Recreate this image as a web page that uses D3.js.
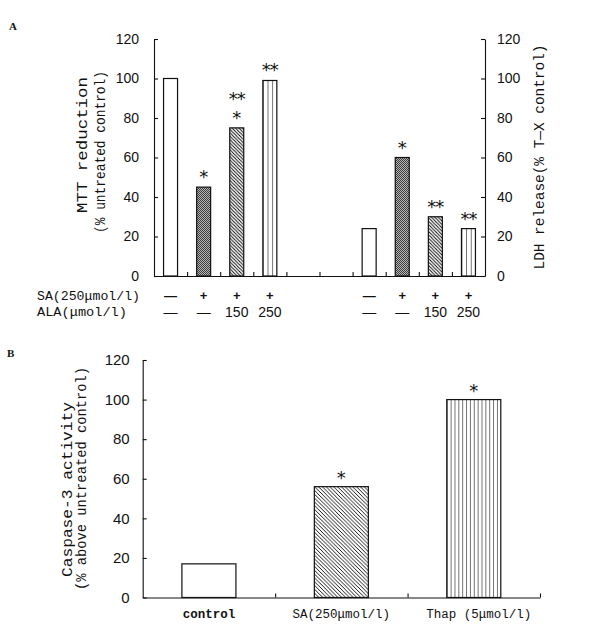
<!DOCTYPE html>
<html><head><meta charset="utf-8">
<script src="https://cdn.jsdelivr.net/npm/d3@7"></script>
<style>body{margin:0;background:#fff}svg{display:block}</style>
</head><body>
<script>
// ---------- data ----------
const slotsA = ["m1","m2","m3","m4","g1","g2","l1","l2","l3","l4"];
const mttSlots = ["m1","m2","m3","m4"];
const ldhSlots = ["l1","l2","l3","l4"];
const mttValues = [100, 45, 75, 99];
const ldhValues = [24, 60, 30, 24];
const barStylesA = ["open","dots","diag","vert"];
const mttSig = [[], ["*"], ["*","**"], ["**"]];
const ldhSig = [[], ["*"], ["**"], ["**"]];
const saRow = ["—","+","+","+"];
const alaRow = ["—","—","150","250"];
const rowLabels = ["SA(250μmol/l)", "ALA(μmol/l)"];
const yTicks = [0,20,40,60,80,100,120];

const categoriesB = ["control", "SA(250μmol/l)", "Thap (5μmol/l)"];
const caspValues = [17, 56, 100];
const barStylesB = ["open","diag","vert"];
const caspSig = [[], ["*"], ["*"]];

// ---------- setup ----------
const W = 600, H = 633;
const svg = d3.select("body").append("svg").attr("width", W).attr("height", H);
const defs = svg.append("defs");
const ink = "#111";
let pid = 0;

function fillFor(style, x0, w, cellW) {
  if (style === "open") return "#fff";
  const id = "p" + (pid++);
  if (style === "dots") {
    const p = defs.append("pattern").attr("id", id).attr("patternUnits", "userSpaceOnUse")
      .attr("width", 2).attr("height", 2);
    p.append("rect").attr("width", 2).attr("height", 2).attr("fill", "#b8b8b8");
    p.append("rect").attr("width", 1).attr("height", 1).attr("fill", "#3a3a3a");
    p.append("rect").attr("x", 1).attr("y", 1).attr("width", 1).attr("height", 1).attr("fill", "#3a3a3a");
  } else if (style === "diag") {
    const s = cellW;
    const p = defs.append("pattern").attr("id", id).attr("patternUnits", "userSpaceOnUse")
      .attr("x", x0).attr("width", s).attr("height", s);
    p.append("rect").attr("width", s).attr("height", s).attr("fill", "#fff");
    p.append("path").attr("d", `M-1,-1L${s+1},${s+1}M-1,${s-1}L1,${s+1}M${s-1},-1L${s+1},1`)
      .attr("stroke", "#000").attr("stroke-width", 0.9);
  } else if (style === "vert") {
    const n = Math.max(1, Math.round(w / cellW));
    const s = w / n;
    const p = defs.append("pattern").attr("id", id).attr("patternUnits", "userSpaceOnUse")
      .attr("x", x0).attr("width", s).attr("height", 10);
    p.append("rect").attr("width", s).attr("height", 10).attr("fill", "#fff");
    p.append("line").attr("x1", 0).attr("x2", 0).attr("y1", 0).attr("y2", 10)
      .attr("stroke", "#000").attr("stroke-width", 1.1);
  }
  return `url(#${id})`;
}

function styleAxis(g, size) {
  g.selectAll("path.domain, line").attr("stroke", ink).attr("stroke-width", 1.1);
  g.selectAll("text").attr("font-family", "Liberation Sans, Arial, sans-serif")
    .attr("font-size", size).attr("fill", ink);
}

function sigLabels(g, x, y, keys, values, sigs, offset) {
  keys.forEach((k, i) => {
    sigs[i].forEach((t, j) => {
      const cy = y(values[i]) - offset - j * 19;
      g.append("text").attr("x", x(k) + x.bandwidth() / 2).attr("y", cy + 10)
        .attr("text-anchor", "middle").attr("font-family", "DejaVu Sans, sans-serif")
        .attr("font-size", 18).attr("letter-spacing", t.length > 1 ? -1 : 0)
        .attr("fill", ink).text(t);
    });
  });
}

function rotTitle(g, text, cx, cy, len, size) {
  g.append("text").attr("transform", `translate(${cx},${cy}) rotate(-90)`)
    .attr("text-anchor", "middle").attr("font-family", "Liberation Mono, monospace")
    .attr("font-size", size).attr("textLength", len).attr("lengthAdjust", "spacingAndGlyphs")
    .attr("fill", ink).text(text);
}

// ---------- Panel A ----------
const gA = svg.append("g");
const xA = d3.scaleBand().domain(slotsA).range([154, 485]).paddingInner(0.577).paddingOuter(0.2885);
const yA = d3.scaleLinear().domain([0, 120]).range([276, 39]);
const slotAxis = d3.scaleLinear().domain([0, slotsA.length]).range(xA.range());

gA.append("g").attr("transform", "translate(154,0)")
  .call(d3.axisLeft(yA).tickValues(yTicks).tickSizeInner(-4).tickSizeOuter(0).tickPadding(15))
  .call(g => styleAxis(g, 14));
gA.append("g").attr("transform", "translate(485,0)")
  .call(d3.axisRight(yA).tickValues(yTicks).tickSizeInner(-4).tickSizeOuter(0).tickPadding(12))
  .call(g => styleAxis(g, 14));
gA.append("g").attr("transform", "translate(0,276)")
  .call(d3.axisBottom(slotAxis).tickValues(d3.range(1, slotsA.length)).tickSizeInner(-4).tickSizeOuter(0).tickFormat(""))
  .call(g => styleAxis(g, 14));

function barsA(keys, values) {
  keys.forEach((k, i) => {
    const x0 = xA(k), w = xA.bandwidth();
    gA.append("rect").attr("x", x0).attr("y", yA(values[i]))
      .attr("width", w).attr("height", yA(0) - yA(values[i]))
      .attr("fill", fillFor(barStylesA[i], x0, w, barStylesA[i] === "diag" ? 3.4 : 4.6))
      .attr("stroke", ink).attr("stroke-width", 1.2);
  });
}
barsA(mttSlots, mttValues);
barsA(ldhSlots, ldhValues);
sigLabels(gA, xA, yA, mttSlots, mttValues, mttSig, 14);
sigLabels(gA, xA, yA, ldhSlots, ldhValues, ldhSig, 14);

// treatment rows
[mttSlots, ldhSlots].forEach(keys => {
  keys.forEach((k, i) => {
    const cx = xA(k) + xA.bandwidth() / 2;
    gA.append("text").attr("x", cx).attr("y", 300).attr("text-anchor", "middle")
      .attr("font-family", "Liberation Sans, sans-serif").attr("font-size", saRow[i] === "+" ? 13 : 13)
      .attr("font-weight", "bold").attr("fill", ink).text(saRow[i]);
    gA.append("text").attr("x", cx).attr("y", 316.5).attr("text-anchor", "middle")
      .attr("font-family", "Liberation Sans, sans-serif").attr("font-size", 14)
      .attr("fill", ink).text(alaRow[i]);
  });
});
gA.append("text").attr("x", 37).attr("y", 300).attr("font-family", "Liberation Mono, monospace")
  .attr("font-size", 13).attr("textLength", 103).attr("lengthAdjust", "spacingAndGlyphs")
  .attr("fill", ink).text(rowLabels[0]);
gA.append("text").attr("x", 37).attr("y", 316).attr("font-family", "Liberation Mono, monospace")
  .attr("font-size", 13).attr("textLength", 90).attr("lengthAdjust", "spacingAndGlyphs")
  .attr("fill", ink).text(rowLabels[1]);

rotTitle(gA, "MTT reduction", 87, 145, 136, 15);
rotTitle(gA, "(% untreated control)", 104.5, 152, 162, 15);
rotTitle(gA, "LDH release(% T—X control)", 543.5, 157, 225, 15);

gA.append("text").attr("x", 9).attr("y", 30).attr("font-family", "Liberation Serif, serif")
  .attr("font-weight", "bold").attr("font-size", 11).attr("fill", ink).text("A");

// ---------- Panel B ----------
const gB = svg.append("g");
const xB = d3.scaleBand().domain(categoriesB).range([142.7, 540]).paddingInner(0.592).paddingOuter(0.296);
const yB = d3.scaleLinear().domain([0, 120]).range([597.5, 360]);
const catAxis = d3.scaleLinear().domain([0, categoriesB.length]).range(xB.range());

gB.append("g").attr("transform", "translate(142.7,0)")
  .call(d3.axisLeft(yB).tickValues(yTicks).tickSizeInner(-4).tickSizeOuter(0).tickPadding(13))
  .call(g => styleAxis(g, 15));
gB.append("g").attr("transform", "translate(0,597.5)")
  .call(d3.axisBottom(catAxis).tickValues(d3.range(1, categoriesB.length + 1)).tickSizeInner(-4).tickSizeOuter(0).tickFormat(""))
  .call(g => styleAxis(g, 14));

categoriesB.forEach((c, i) => {
  const x0 = xB(c), w = xB.bandwidth();
  gB.append("rect").attr("x", x0).attr("y", yB(caspValues[i]))
    .attr("width", w).attr("height", yB(0) - yB(caspValues[i]))
    .attr("fill", fillFor(barStylesB[i], x0, w, barStylesB[i] === "diag" ? 3.8 : 3.85))
    .attr("stroke", ink).attr("stroke-width", 1.2);
  gB.append("text").attr("x", x0 + w / 2 + (i === 2 ? 5 : 0)).attr("y", 618).attr("text-anchor", "middle")
    .attr("font-family", "Liberation Mono, monospace").attr("font-size", 12.5)
    .attr("font-weight", i === 0 ? "bold" : "normal")
    .attr("fill", ink).text(c);
});
sigLabels(gB, xB, yB, categoriesB, caspValues, caspSig, 13);

rotTitle(gB, "Caspase-3 activity", 72, 489.5, 175, 15);
rotTitle(gB, "(% above untreated control)", 86, 478.5, 223, 15);

gB.append("text").attr("x", 7).attr("y", 357).attr("font-family", "Liberation Serif, serif")
  .attr("font-weight", "bold").attr("font-size", 11).attr("fill", ink).text("B");
</script>
</body></html>
